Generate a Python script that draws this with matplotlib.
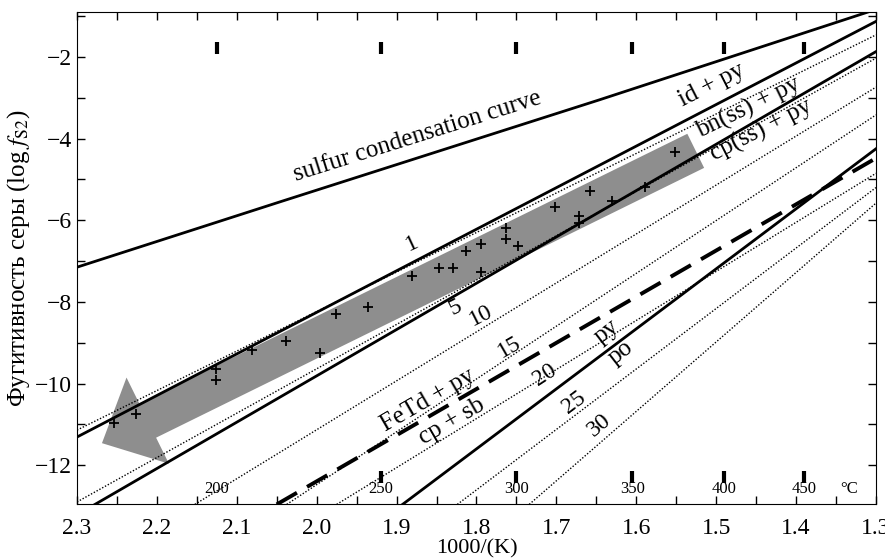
import numpy as np
import matplotlib
matplotlib.use("Agg")
import matplotlib.pyplot as plt
from matplotlib.ticker import MultipleLocator
from matplotlib.patches import Polygon

plt.rcParams['font.family'] = ['Liberation Serif', 'DejaVu Serif']
plt.rcParams['mathtext.fontset'] = 'stix'

# boundary lines, (1000/T, log fS2)
sulfur_x = [2.3, 2.046, 1.646, 1.31]
sulfur_y = [-7.15, -5.55, -3.05, -0.9]
idpy_x = [2.3, 1.3]
idpy_y = [-11.31, -1.13]
cpss_x = [2.2775, 1.3]
cpss_y = [-12.96, -1.87]
pypo_x = [1.8925, 1.3]
pypo_y = [-12.96, -4.25]
fetd_x = [2.05, 1.3]
fetd_y = [-12.96, -4.48]

# iso-composition lines (dotted), label -> two points
iso_labels = ['1', '5', '10', '15', '20', '25', '30']
iso_x = [[2.3, 1.3], [2.3, 1.3], [2.1525, 1.3], [2.0375, 1.3],
         [1.975, 1.3], [1.824, 1.3], [1.734, 1.3]]
iso_y = [[-11.14, -1.46], [-12.9, -2.03], [-12.96, -2.74], [-12.96, -3.42],
         [-12.96, -4.85], [-12.96, -5.2], [-12.96, -5.58]]

# measured samples
pts_x = [2.2538, 2.2263, 2.1263, 2.1263, 2.0813, 2.0388, 1.9963, 1.9763,
         1.9363, 1.8813, 1.8463, 1.8288, 1.8125, 1.7938, 1.7938, 1.7625,
         1.7625, 1.7475, 1.7013, 1.6713, 1.6713, 1.6575, 1.6300, 1.5888,
         1.5513]
pts_y = [-10.97, -10.75, -9.65, -9.91, -9.18, -8.96, -9.25, -8.30,
         -8.13, -7.37, -7.17, -7.17, -6.76, -6.58, -7.27, -6.19,
         -6.46, -6.63, -5.68, -5.90, -6.07, -5.28, -5.53, -5.19,
         -4.33]

# temperature marks
temp_labels = ['200', '250', '300', '350', '400', '450']
temp_x = [2.125, 1.92, 1.75, 1.605, 1.49, 1.39]

fig = plt.figure(figsize=(8.85, 5.59), dpi=100)
ax = fig.add_axes([0.087, 0.0984, 0.9028, 0.8801])
ax.set_xlim(2.3, 1.3)
ax.set_ylim(-12.95, -0.9)

# trend arrow (built in pixel space so head is not distorted)
fig.canvas.draw()
tail = ax.transData.transform((1.5256, -4.30))
tip = ax.transData.transform((2.26875, -11.46))
d = tip - tail
L = np.hypot(*d)
u = d / L
n = np.array([-u[1], u[0]])
hw, hl, sw = 48, 51, 19
base = tip - u * hl
poly_px = [tail + n * sw, base + n * sw, base + n * hw, tip,
           base - n * hw, base - n * sw, tail - n * sw]
poly = ax.transData.inverted().transform(poly_px)
ax.add_patch(Polygon(poly, closed=True, color='#8e8e8e', lw=0, zorder=1))

for xs, ys in zip(iso_x, iso_y):
    ax.plot(xs, ys, color='black', lw=1.0, ls=(0, (1, 1.3)), zorder=2)
ax.plot(sulfur_x, sulfur_y, color='black', lw=2.0, zorder=3)
ax.plot(idpy_x, idpy_y, color='black', lw=2.0, zorder=3)
ax.plot(cpss_x, cpss_y, color='black', lw=2.0, zorder=3)
ax.plot(pypo_x, pypo_y, color='black', lw=2.0, zorder=3)
ax.plot(fetd_x, fetd_y, color='black', lw=2.8, ls=(0, (6, 3)), zorder=3)

ax.plot(pts_x, pts_y, '+', color='black', ms=7, mew=1.3, zorder=4)

ax.plot(temp_x, [-1.78] * 6, '|', color='black', ms=8, mew=3)
ax.plot(temp_x[1:], [-12.29] * 5, '|', color='black', ms=8, mew=3)
for tx, tl in zip(temp_x, temp_labels):
    ax.text(tx, -12.58, tl, ha='center', va='center', fontsize=12)
ax.text(1.334, -12.58, '°C', ha='center', va='center', fontsize=12)

ax.text(1.874, -3.95, 'sulfur condensation curve', rotation=17.5,
        ha='center', va='center', fontsize=18)
ax.text(1.506, -2.69, 'id + py', rotation=27, ha='center', va='center', fontsize=18)
ax.text(1.459, -3.25, 'bn(ss) + py', rotation=26, ha='center', va='center', fontsize=18)
ax.text(1.444, -3.79, 'cp(ss) + py', rotation=27, ha='center', va='center', fontsize=18)
ax.text(1.861, -10.41, 'FeTd + py', rotation=30, ha='center', va='center', fontsize=18)
ax.text(1.831, -10.92, 'cp + sb', rotation=30, ha='center', va='center', fontsize=18)
ax.text(1.6375, -8.74, 'py', rotation=38, ha='center', va='center', fontsize=18)
ax.text(1.619, -9.25, 'po', rotation=38, ha='center', va='center', fontsize=18)

lab_x = [1.881, 1.826, 1.794, 1.759, 1.715, 1.6775, 1.646]
lab_y = [-6.56, -8.13, -8.35, -9.11, -9.79, -10.46, -11.02]
lab_rot = [25, 27, 27, 30, 33, 37, 40]
for lx, ly, lr, lt in zip(lab_x, lab_y, lab_rot, iso_labels):
    ax.text(lx, ly, lt, rotation=lr, ha='center', va='center', fontsize=17)

ax.xaxis.set_major_locator(MultipleLocator(0.1))
ax.xaxis.set_minor_locator(MultipleLocator(0.05))
ax.yaxis.set_major_locator(MultipleLocator(2))
ax.yaxis.set_minor_locator(MultipleLocator(1))
ax.tick_params(which='both', direction='in', top=True, right=True,
               length=6, width=1, labelsize=17)
ax.tick_params(axis='x', pad=10)
ax.set_xlabel('1000/(K)', fontsize=16, labelpad=0)
ax.set_ylabel('Фугитивность серы (log $f_{\\mathrm{S2}}$)', fontsize=18, labelpad=2)

fig.savefig('out.png', dpi=100)
